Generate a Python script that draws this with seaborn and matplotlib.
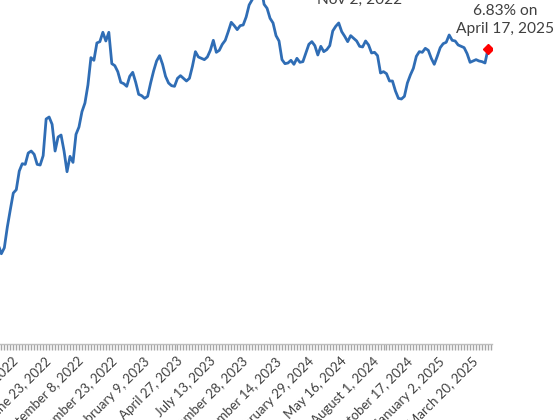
import matplotlib
matplotlib.use("Agg")
import matplotlib.pyplot as plt
import seaborn as sns
import pandas as pd
import numpy as np
from matplotlib.ticker import MultipleLocator, FixedLocator

# Weekly 30-year fixed mortgage rate (%), first week = January 6, 2022
rates_2022 = [3.22, 3.45, 3.56, 3.55, 3.55, 3.69, 3.92, 3.89, 3.76, 3.85, 4.16, 4.42, 4.67,
              4.72, 5.00, 5.11, 5.10, 5.27, 5.30, 5.25, 5.10, 5.09, 5.23, 5.78, 5.81, 5.70,
              5.30, 5.51, 5.54, 5.30, 4.99, 5.22, 5.13, 5.55, 5.66, 5.89, 6.02, 6.29, 6.70,
              6.66, 6.92, 6.94, 7.08, 6.95, 7.08, 6.61, 6.58, 6.49, 6.33, 6.31, 6.27, 6.42]
rates_2023 = [6.48, 6.33, 6.15, 6.13, 6.09, 6.12, 6.32, 6.50, 6.65, 6.73, 6.60, 6.42, 6.32,
              6.28, 6.27, 6.39, 6.43, 6.39, 6.35, 6.39, 6.57, 6.79, 6.71, 6.69, 6.67, 6.71,
              6.81, 6.96, 6.78, 6.81, 6.90, 6.96, 7.09, 7.23, 7.18, 7.12, 7.18, 7.19, 7.31,
              7.49, 7.57, 7.63, 7.79, 7.76, 7.50, 7.44, 7.29, 7.22, 7.03, 6.95, 6.67, 6.61]
rates_2024 = [6.62, 6.66, 6.60, 6.69, 6.63, 6.64, 6.77, 6.90, 6.94, 6.88, 6.74, 6.87, 6.79,
              6.82, 6.88, 7.10, 7.17, 7.22, 7.09, 7.02, 6.94, 7.03, 6.99, 6.95, 6.87, 6.86,
              6.95, 6.89, 6.77, 6.78, 6.73, 6.47, 6.49, 6.46, 6.35, 6.35, 6.20, 6.09, 6.08,
              6.12, 6.32, 6.44, 6.54, 6.72, 6.79, 6.78, 6.84, 6.81, 6.69, 6.60, 6.72, 6.85]
rates_2025 = [6.91, 6.93, 7.04, 6.96, 6.95, 6.89, 6.87, 6.85, 6.76, 6.63, 6.65, 6.67, 6.65,
              6.64, 6.62, 6.83]

tick_weeks = [2, 13, 24, 35, 46, 57, 68, 79, 90, 101, 112, 123, 134, 145, 156, 167]
tick_labels = ["January 20, 2022", "April 7, 2022", "June 23, 2022", "September 8, 2022",
               "November 23, 2022", "February 9, 2023", "April 27, 2023", "July 13, 2023",
               "September 28, 2023", "December 14, 2023", "February 29, 2024", "May 16, 2024",
               "August 1, 2024", "October 17, 2024", "January 2, 2025", "March 20, 2025"]

rates = rates_2022 + rates_2023 + rates_2024 + rates_2025
df = pd.DataFrame({"week": np.arange(len(rates)), "rate": rates})
last_week = len(rates) - 1
last_rate = rates[-1]

sns.set_theme(style="white")
plt.rcParams['font.family'] = ['Lato', 'DejaVu Sans']

W, H = 560, 420
fig = plt.figure(figsize=(5.6, 4.2), dpi=100)
# axes placed in pixel terms (left part of chart cropped off the figure)
left_px, right_px = -30, 492
bottom_px, top_px = 344, -40
ax = fig.add_axes([left_px / W, (H - bottom_px) / H,
                   (right_px - left_px) / W, (bottom_px - top_px) / H])

sns.lineplot(data=df, x="week", y="rate", ax=ax, color="#2F6DB5", linewidth=2.0)
ax.plot([last_week], [last_rate], marker="D", color="#FF0000", markersize=5.5, zorder=5)

ax.set_xlim(-2.5, 172.34)
ax.set_ylim(2.407, 8.164)

for s in ["top", "right", "left"]:
    ax.spines[s].set_visible(False)
ax.spines["bottom"].set_color("#BFBFBF")
ax.spines["bottom"].set_linewidth(1.0)

ax.set_yticks([])
ax.xaxis.set_major_locator(FixedLocator(tick_weeks))
ax.xaxis.set_minor_locator(MultipleLocator(1))
ax.set_xticklabels(tick_labels, rotation=45, ha="right", va="center",
                   rotation_mode="anchor", fontsize=9.5, color="#404040")
ax.tick_params(axis="x", which="both", direction="out", length=4, width=1,
               color="#A6A6A6", bottom=True, pad=7)
ax.set_xlabel("")
ax.set_ylabel("")

ax.text(last_week + 5.8, 7.265, "6.83% on\nApril 17, 2025", ha="center", va="center",
        fontsize=11.2, color="#404040", linespacing=1.4)
ax.text(128.1, 7.70, "7.79% on\nNov 2, 2022", ha="center", va="center",
        fontsize=11.2, color="#404040", linespacing=1.4)

fig.savefig("out.png", dpi=100)
